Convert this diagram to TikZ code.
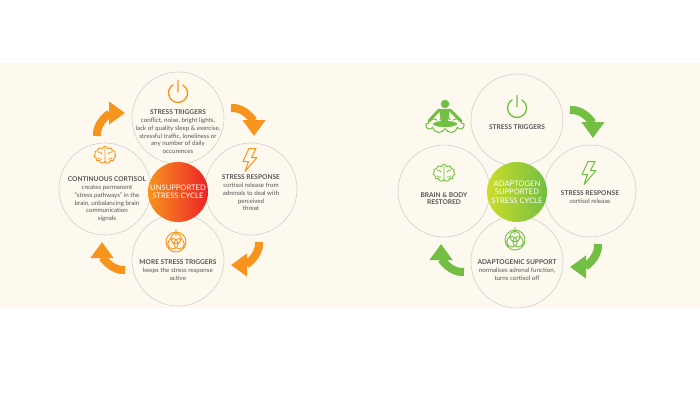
\documentclass[tikz,border=0pt]{standalone}
\usepackage{fontspec}
\setmainfont{Lato}
\usetikzlibrary{arrows.meta,shapes.symbols}

\definecolor{cream}{HTML}{FDF9EE}
\definecolor{ringgray}{HTML}{CFCFCF}
\definecolor{inkgray}{HTML}{555555}
\definecolor{warmorange}{HTML}{F7941D}
\definecolor{warmred}{HTML}{EC2227}
\definecolor{leafgreen}{HTML}{72BF44}
\definecolor{limegreen}{HTML}{CDDC29}

\newcommand{\stagehead}[1]{{\fontsize{6.6}{7.8}\selectfont\bfseries #1}}

\begin{document}
\begin{tikzpicture}[x=1pt, y=1pt,
    stage/.style ={circle, draw=ringgray, line width=0.6pt, fill=cream, minimum size=92pt, inner sep=0pt},
    hub/.style ={circle, minimum size=60pt, inner sep=0pt, align=center, text=white, font=\fontsize{7.6}{8.5}\selectfont},
    stagetext/.style ={align=center, anchor=north, inner sep=0pt, text=inkgray, font=\fontsize{6.2}{7.7}\selectfont},
    cyclearrow/.style ={line width=8pt, -{Triangle[width=22pt, length=16pt]}},
    power/.pic ={\draw[line width=1.3pt, line cap=round] (120:9.5) arc (120:420:9.5) (0,1) -- (0,12.5);},
    bolt/.pic ={\draw[line width=1pt, line join=round] (-1,11.5) -- (6,11.5) -- (1.5,2.5) -- (7,2.5) -- (-5,-11.5) -- (-1.5,-1.5) -- (-7,-1.5) -- cycle;},
    brain/.pic ={\node[cloud, cloud puffs=11, aspect=1.35, draw, line width=0.9pt, minimum width=22pt, minimum height=17pt, inner sep=0pt] (-outline) {};
      \draw[line width=0.8pt, line cap=round] (0,7) -- (0,-7) (-7,3) to[bend left] (-3,1) (7,3) to[bend right] (3,1) (-7,-3) to[bend right] (-3,-4) (7,-3) to[bend left] (3,-4);},
    knot/.pic ={\draw[line width=0.9pt] (0,0) circle (10) (90:3.5) circle (5.3) (210:3.5) circle (5.3) (330:3.5) circle (5.3) (0,6) -- (0,13);},
    yoga/.pic ={\node[cloud, cloud puffs=9, aspect=2.2, draw, line width=1pt, fill=cream, minimum width=38pt, minimum height=16pt, inner sep=0pt] (-cloud) at (1,-7) {};
      \fill[draw=cream, line width=1.2pt] (1,-6) ellipse (13 and 3.8);
      \fill (-5,9) -- (6,9) -- (4,-4) -- (-3,-4) -- cycle;
      \draw[line width=3pt, line cap=round] (-5,8) -- (-15,-3) (6,8) -- (17,-3);
      \fill (1,14) circle (4.3);}]

   \useasboundingbox (0,0) rectangle (700,400);
   \fill[white] (0,0) rectangle (700,400);
   \fill[cream] (0,92) rectangle (700,337);

   \begin{scope}[shift={(178,211)}]
   \node[stage] (T1) at (90:71)  {};
   \node[stage] (R1) at (0:73)   {};
   \node[stage] (B1) at (270:71) {};
   \node[stage] (L1) at (180:73) {};

   \node[stagetext] (T1text) at (0,80) {\stagehead{STRESS TRIGGERS}\\[1pt] conflict, noise, bright lights,\\ lack of quality sleep \& exercise,\\ stressful traffic, loneliness or\\ any number of daily\\ occurences};
   \node[stagetext] (R1text) at (73,15) {\stagehead{STRESS RESPONSE}\\[1pt] cortisol release from\\ adrenals to deal with\\ perceived\\ threat};
   \node[stagetext] (L1text) at (-71,13) {\stagehead{CONTINUOUS CORTISOL}\\[1pt] creates permanent\\ ``stress pathways'' in the\\ brain, unbalancing brain\\ communication\\ signals};
   \node[stagetext] (B1text) at (0,-70) {\stagehead{MORE STRESS TRIGGERS}\\[1pt] keeps the stress response\\ active};

   \pic[warmorange] at (0,96) {power};
   \pic[warmorange] at (72,29) {bolt};
   \pic[warmorange] (brain1) at (-73,34) {brain};
   \pic[warmorange] at (-2,-53) {knot};

   \node[hub, left color=warmorange, right color=warmred] (H1) at (0,-3) {UNSUPPORTED\\STRESS CYCLE};

   \foreach \a in {0,90,180,270}
     \draw[cyclearrow, warmorange, rotate=\a] (53,81) to[out=5, in=90] (76,53);
   \end{scope}

   \begin{scope}[shift={(517,209)}]
   \node[stage] (T2) at (90:71)  {};
   \node[stage] (R2) at (0:73)   {};
   \node[stage] (B2) at (270:71) {};
   \node[stage] (L2) at (180:73) {};

   \node[stagetext] (T2text) at (0,67) {\stagehead{STRESS TRIGGERS}};
   \node[stagetext] (R2text) at (73,1) {\stagehead{STRESS RESPONSE}\\[1pt] cortisol release};
   \node[stagetext] (L2text) at (-73,-1) {\stagehead{BRAIN \& BODY}\\ \stagehead{RESTORED}};
   \node[stagetext] (B2text) at (0,-68) {\stagehead{ADAPTOGENIC SUPPORT}\\[1pt] normalises adrenal function,\\ turns cortisol off};

   \pic[leafgreen] at (0,83) {power};
   \pic[leafgreen] at (72,18) {bolt};
   \pic[leafgreen] (brain2) at (-73,18) {brain};
   \pic[leafgreen] at (-2,-49) {knot};
   \pic[leafgreen] (yogi) at (-73,73) {yoga};

   \node[hub, left color=limegreen, right color=leafgreen] (H2) at (0,-1) {ADAPTOGEN\\SUPPORTED\\STRESS CYCLE};

   \foreach \a in {0,-90,180}
     \draw[cyclearrow, leafgreen, rotate=\a] (53,81) to[out=5, in=90] (76,53);
   \end{scope}
 \end{tikzpicture}
\end{document}
